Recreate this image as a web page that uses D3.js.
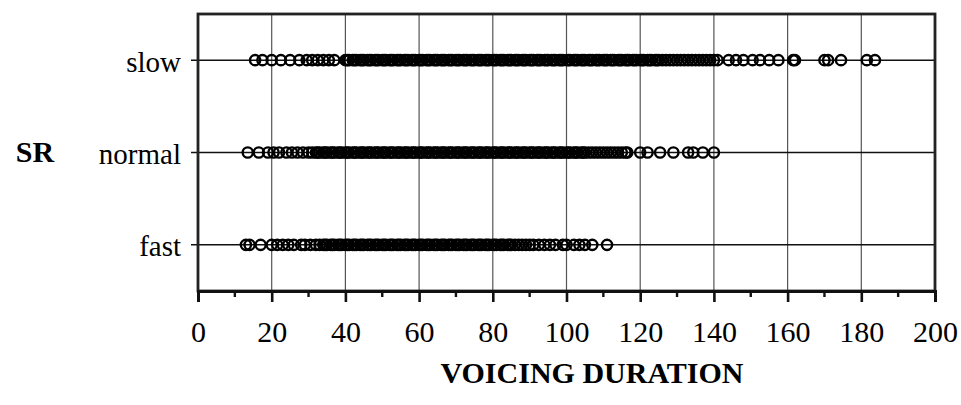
<!DOCTYPE html>
<html><head><meta charset="utf-8">
<script src="https://cdn.jsdelivr.net/npm/d3@7"></script>
<style>body{margin:0;background:#fff}svg{display:block}</style>
</head><body>
<svg id="c" width="961" height="405"></svg>
<script>
const categories = ["slow", "normal", "fast"];
const xTicks = [0, 20, 40, 60, 80, 100, 120, 140, 160, 180, 200];
const slowValues = [15.5, 17.5, 20, 22.5, 25, 27.5, 29.5, 31, 32.5, 34, 35.5, 37, 40, 40.5, 41,
  42, 43, 44, 45, 46, 47, 48, 49, 50, 51, 52, 53, 54, 55, 56, 57, 58, 59, 60, 61, 62, 63, 64, 65,
  66, 67, 68, 69, 70, 71, 72, 73, 74, 75, 76, 77, 78, 79, 80, 81, 82, 83, 84, 85, 86, 87, 88, 89,
  90, 91, 92, 93, 94, 95, 96, 97, 98, 99, 100, 101, 102, 103, 104, 105, 106, 107, 108, 109, 110,
  111, 112, 113, 114, 115, 116, 117, 118, 119, 120, 121, 122, 123, 124, 125, 126, 127, 128, 129,
  130, 131, 132, 133, 134, 135, 136, 137, 138, 139, 140,
  42.5, 44.5, 46.5, 48.5, 50.5, 52.5, 54.5, 56.5, 58.5, 60.5, 62.5, 64.5, 66.5, 68.5, 70.5, 72.5,
  74.5, 76.5, 78.5, 80.5, 82.5, 84.5, 86.5, 88.5, 90.5, 92.5, 94.5, 96.5, 98.5, 100.5, 102.5,
  104.5, 106.5, 108.5, 110.5, 112.5, 114.5, 116.5, 118.5, 120.5, 122.5, 124.5,
  141, 144, 146, 148, 150.5, 152.5, 155, 157.5, 161.5, 162, 170, 171, 174.5, 181.5, 183.7];
const normalValues = [13.5, 16.5, 19, 20.5, 22, 24, 25.5, 27, 28.5, 30, 31, 32, 33, 34, 35, 36, 37,
  38, 39, 40, 41, 42, 43, 44, 45, 46, 47, 48, 49, 50, 51, 52, 53, 54, 55, 56, 57, 58, 59, 60, 61,
  62, 63, 64, 65, 66, 67, 68, 69, 70, 71, 72, 73, 74, 75, 76, 77, 78, 79, 80, 81, 82, 83, 84, 85,
  86, 87, 88, 89, 90, 91, 92, 93, 94, 95, 96, 97, 98, 99, 100, 101, 102, 103, 104, 105, 106, 107,
  108, 109, 110, 111, 112, 113, 114, 115, 116,
  32.5, 34.5, 36.5, 38.5, 40.5, 42.5, 44.5, 46.5, 48.5, 50.5, 52.5, 54.5, 56.5, 58.5, 60.5, 62.5,
  64.5, 66.5, 68.5, 70.5, 72.5, 74.5, 76.5, 78.5, 80.5, 82.5, 84.5, 86.5, 88.5, 90.5, 92.5, 94.5,
  96.5, 98.5, 100.5, 102.5, 104.5,
  116.5, 120, 122, 125.4, 129, 133, 134.4, 137, 140];
const fastValues = [13, 14, 17, 20, 21.5, 23, 24.5, 26, 28, 29, 30.5, 32, 33, 34, 35, 36, 37, 38,
  39, 40, 41, 42, 43, 44, 45, 46, 47, 48, 49, 50, 51, 52, 53, 54, 55, 56, 57, 58, 59, 60, 61, 62,
  63, 64, 65, 66, 67, 68, 69, 70, 71, 72, 73, 74, 75, 76, 77, 78, 79, 80, 81, 82, 83, 84, 85, 86,
  87, 88, 89, 90, 91, 92.5, 94, 95.5, 97, 99, 100, 102, 103.5, 105, 107, 111,
  34.5, 36.5, 38.5, 40.5, 42.5, 44.5, 46.5, 48.5, 50.5, 52.5, 54.5, 56.5, 58.5, 60.5, 62.5, 64.5,
  66.5, 68.5, 70.5, 72.5, 74.5, 76.5, 78.5, 80.5, 82.5, 84.5];
const seriesByCat = { slow: slowValues, normal: normalValues, fast: fastValues };

const svg = d3.select("#c");
const L = 198, R = 935, T = 14, B = 291;
const x = d3.scaleLinear().domain([0, 200]).range([L, R]);
const y = d3.scalePoint().domain(categories).range([T, B]).padding(0.5);
const font = "'Liberation Serif', 'Times New Roman', serif";

// vertical grid
svg.append("g").selectAll("line").data(xTicks.slice(1, -1)).join("line")
  .attr("x1", d => x(d)).attr("x2", d => x(d)).attr("y1", T).attr("y2", B)
  .attr("stroke", "#555").attr("stroke-width", 1.2);

// horizontal category lines
svg.append("g").selectAll("line").data(categories).join("line")
  .attr("x1", L - 7).attr("x2", R).attr("y1", d => y(d)).attr("y2", d => y(d))
  .attr("stroke", "#111").attr("stroke-width", 1.5);

// frame
svg.append("rect").attr("x", L).attr("y", T).attr("width", R - L).attr("height", B - T)
  .attr("fill", "none").attr("stroke", "#222").attr("stroke-width", 2.8);

// x axis
const xAxis = d3.axisBottom(x).tickValues(xTicks).tickSize(11).tickPadding(19).tickFormat(d3.format("d"));
const gx = svg.append("g").attr("transform", `translate(0,${B})`).call(xAxis);
gx.select(".domain").attr("stroke", "#111").attr("stroke-width", 3);
gx.selectAll(".tick line").attr("stroke", "#111").attr("stroke-width", 2.6);
gx.selectAll(".tick text").attr("font-family", font).attr("font-size", 30).attr("fill", "#000");
// minor ticks
svg.append("g").selectAll("line").data(d3.range(10, 200, 20)).join("line")
  .attr("x1", d => x(d)).attr("x2", d => x(d)).attr("y1", B).attr("y2", B + 6)
  .attr("stroke", "#111").attr("stroke-width", 2.4);

// y labels
svg.append("g").selectAll("text").data(categories).join("text")
  .attr("x", 181).attr("y", d => y(d)).attr("dy", "0.4em").attr("text-anchor", "end")
  .attr("font-family", font).attr("font-size", 29).text(d => d);

// points
const pts = categories.flatMap(c => seriesByCat[c].map(v => ({ c, v })));
svg.append("g").selectAll("circle").data(pts).join("circle")
  .attr("cx", d => x(d.v)).attr("cy", d => y(d.c)).attr("r", 5.1)
  .attr("fill", "none").attr("stroke", "#000").attr("stroke-width", 2.4);

// titles
svg.append("text").attr("x", 35).attr("y", 162).attr("text-anchor", "middle")
  .attr("font-family", font).attr("font-weight", "bold").attr("font-size", 30).text("SR");
svg.append("text").attr("x", 592).attr("y", 383).attr("text-anchor", "middle")
  .attr("font-family", font).attr("font-weight", "bold").attr("font-size", 30).text("VOICING DURATION");
</script>
</body></html>
